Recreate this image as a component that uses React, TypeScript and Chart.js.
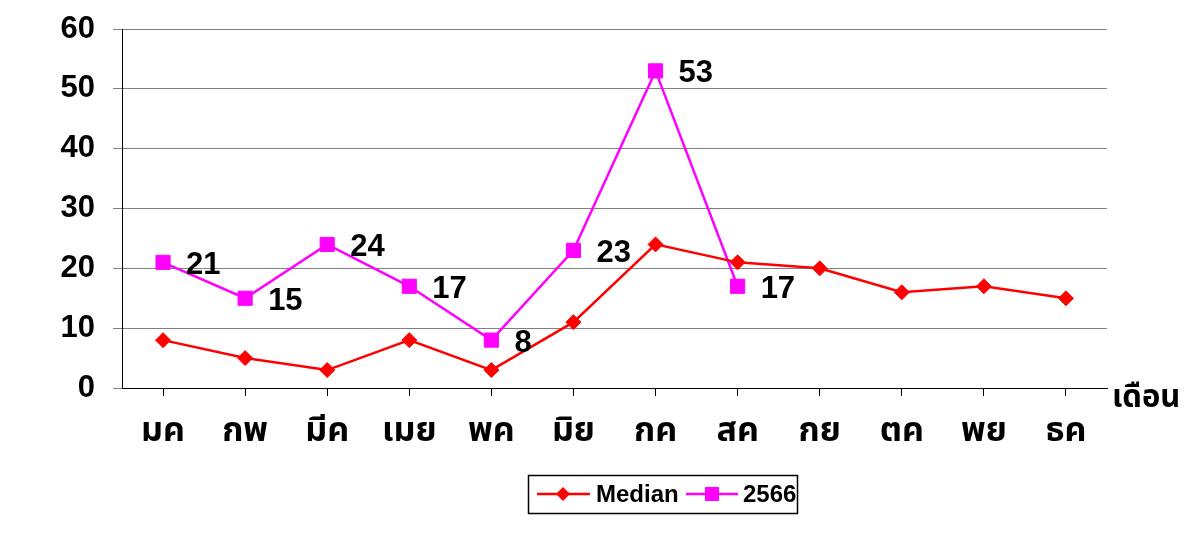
import React, { useEffect, useRef } from "react";
import { Chart, registerables } from "chart.js";

Chart.register(...registerables);

const months = ["มค", "กพ", "มีค", "เมย", "พค", "มิย", "กค", "สค", "กย", "ตค", "พย", "ธค"];
const medianValues = [8, 5, 3, 8, 3, 11, 24, 21, 20, 16, 17, 15];
const year2566Values = [21, 15, 24, 17, 8, 23, 53, 17, null, null, null, null];
const yTicks = [0, 10, 20, 30, 40, 50, 60];
const seriesNames = ["Median", "2566"];
const xAxisTitle = "เดือน";

const RED = "#ff0000";
const MAGENTA = "#ff00ff";
const NUM_FONT = "Arial, 'Liberation Sans', sans-serif";
const THAI_FONT = "Tahoma, 'Noto Sans Thai', 'Noto Sans', sans-serif";

const extrasPlugin = {
  id: "extras",
  afterDatasetsDraw(chart: any) {
    const ctx = chart.ctx;
    const meta = chart.getDatasetMeta(1);
    ctx.save();
    ctx.fillStyle = "#000";
    ctx.font = `bold 31px ${NUM_FONT}`;
    ctx.textAlign = "left";
    ctx.textBaseline = "middle";
    meta.data.forEach((pt: any, i: number) => {
      const v = year2566Values[i];
      if (v === null || v === undefined) return;
      ctx.fillText(String(v), pt.x + 23, pt.y + 3);
    });
    ctx.restore();
  },
  afterDraw(chart: any) {
    const ctx = chart.ctx;
    const area = chart.chartArea;
    ctx.save();
    // x axis title
    ctx.fillStyle = "#000";
    ctx.font = `bold 31px ${THAI_FONT}`;
    ctx.textAlign = "left";
    ctx.textBaseline = "middle";
    ctx.fillText(xAxisTitle, area.right + 5, area.bottom + 13);

    // legend
    const lx = 528, ly = 475, lw = 269, lh = 38;
    ctx.strokeStyle = "#000";
    ctx.lineWidth = 1.5;
    ctx.strokeRect(lx + 0.5, ly + 0.5, lw, lh);
    const cy = ly + 19;
    // median item
    ctx.strokeStyle = RED;
    ctx.lineWidth = 2.5;
    ctx.beginPath();
    ctx.moveTo(537, cy);
    ctx.lineTo(590, cy);
    ctx.stroke();
    ctx.fillStyle = RED;
    ctx.beginPath();
    ctx.moveTo(563 - 7, cy);
    ctx.lineTo(563, cy - 7);
    ctx.lineTo(563 + 7, cy);
    ctx.lineTo(563, cy + 7);
    ctx.closePath();
    ctx.fill();
    // 2566 item
    ctx.strokeStyle = MAGENTA;
    ctx.beginPath();
    ctx.moveTo(686, cy);
    ctx.lineTo(738, cy);
    ctx.stroke();
    ctx.fillStyle = MAGENTA;
    ctx.fillRect(712 - 7, cy - 7, 14, 14);
    ctx.fillStyle = "#000";
    ctx.font = `bold 24px ${NUM_FONT}`;
    ctx.textBaseline = "middle";
    ctx.fillText(seriesNames[0], 596, cy + 1);
    ctx.fillText(seriesNames[1], 743, cy + 1);
    ctx.restore();
  },
};

export default function App() {
  const ref = useRef<HTMLCanvasElement | null>(null);
  useEffect(() => {
    if (!ref.current) return;
    const chart = new Chart(ref.current, {
      type: "line",
      data: {
        labels: months,
        datasets: [
          {
            label: seriesNames[0],
            data: medianValues,
            borderColor: RED,
            backgroundColor: RED,
            borderWidth: 2.5,
            pointStyle: "rectRot",
            pointRadius: 7.5,
            pointBorderWidth: 1,
            pointBackgroundColor: RED,
            pointBorderColor: RED,
            tension: 0,
          },
          {
            label: seriesNames[1],
            data: year2566Values,
            borderColor: MAGENTA,
            backgroundColor: MAGENTA,
            borderWidth: 2.5,
            pointStyle: "rect",
            pointRadius: 10,
            pointBorderWidth: 1,
            pointBackgroundColor: MAGENTA,
            pointBorderColor: MAGENTA,
            spanGaps: false,
            tension: 0,
          },
        ],
      },
      options: {
        animation: false,
        responsive: true,
        maintainAspectRatio: false,
        layout: { padding: { left: 0, top: 29, right: 79, bottom: 85 } },
        plugins: {
          legend: { display: false },
          tooltip: { enabled: false },
        },
        scales: {
          x: {
            type: "category",
            offset: true,
            grid: {
              drawOnChartArea: false,
              drawTicks: true,
              tickLength: 8,
              color: "#000",
              offset: false,
            },
            border: { color: "#000", width: 1 },
            ticks: {
              color: "#000",
              font: { family: THAI_FONT, size: 34, weight: "bold" },
              padding: 18,
              maxRotation: 0,
              autoSkip: false,
            },
            afterFit(scale: any) {
              scale.height = 60;
              scale.paddingLeft = 0;
              scale.paddingRight = 0;
            },
          },
          y: {
            min: 0,
            max: 60,
            afterBuildTicks(scale: any) {
              scale.ticks = yTicks.map((v) => ({ value: v }));
            },
            grid: {
              color: "#808080",
              lineWidth: 1,
              tickLength: 9,
              drawTicks: true,
            },
            border: { color: "#000", width: 1 },
            ticks: {
              color: "#000",
              font: { family: NUM_FONT, size: 31, weight: "bold" },
              padding: 18,
            },
            afterFit(scale: any) {
              scale.width = 122;
              scale.paddingTop = 0;
              scale.paddingBottom = 0;
            },
          },
        },
      },
      plugins: [extrasPlugin],
    });
    return () => chart.destroy();
  }, []);
  return (
    <div style={{ position: "absolute", left: 0, top: 0, width: 1186, height: 533, background: "#fff" }}>
      <canvas ref={ref} />
    </div>
  );
}
